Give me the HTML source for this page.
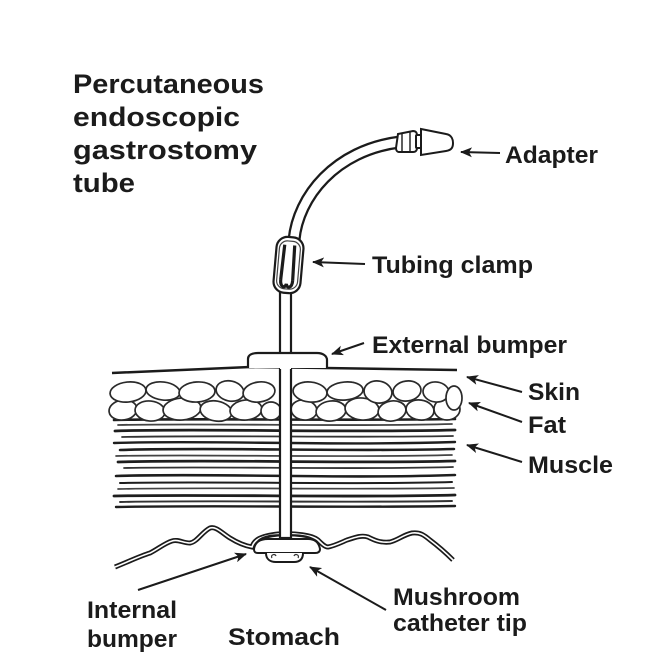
<!DOCTYPE html>
<html><head><meta charset="utf-8"><style>
html,body{margin:0;padding:0;background:#fff;}
svg{display:block;}
text{font-family:"Liberation Sans",Arial,sans-serif;font-weight:bold;fill:#1b1b1b;}
</style></head><body>
<svg width="668" height="656" viewBox="0 0 668 656" xmlns="http://www.w3.org/2000/svg">
<defs>
<marker id="ah" markerWidth="12" markerHeight="10" refX="1" refY="5" orient="auto" markerUnits="userSpaceOnUse">
<path d="M0,5 L12,0 L9,5 L12,10 Z" fill="#1b1b1b"/>
</marker>
</defs>
<rect width="668" height="656" fill="#fff"/>

<!-- Title -->
<text x="73" y="93" font-size="27" textLength="191" lengthAdjust="spacingAndGlyphs">Percutaneous</text>
<text x="73" y="126" font-size="27" textLength="167" lengthAdjust="spacingAndGlyphs">endoscopic</text>
<text x="73" y="159" font-size="27" textLength="184" lengthAdjust="spacingAndGlyphs">gastrostomy</text>
<text x="73" y="192" font-size="27" textLength="62" lengthAdjust="spacingAndGlyphs">tube</text>

<!-- Skin line -->
<path d="M112,373 Q200,369 250,367 L325,368 Q400,369 457,370" fill="none" stroke="#1b1b1b" stroke-width="2.5"/>

<!-- Muscle -->
<g fill="none" stroke="#1e1e1e" stroke-linecap="round">
<path d="M114,420 C200,418 350,421 455,419" stroke-width="2.6"/>
<path d="M118,425 C220,423 340,427 452,424" stroke-width="1.8" stroke="#444"/>
<path d="M115,431 C200,428 330,433 455,430" stroke-width="2.8"/>
<path d="M122,437 C220,435 360,438 453,436" stroke-width="1.8" stroke="#333"/>
<path d="M114,443 C210,440 330,446 455,442" stroke-width="2.4"/>
<path d="M120,450 C220,447 350,452 454,449" stroke-width="2.6"/>
<path d="M116,456 C200,454 340,458 452,455" stroke-width="1.7" stroke="#444"/>
<path d="M118,462 C220,459 340,464 455,461" stroke-width="2.7"/>
<path d="M124,468 C220,466 350,470 453,467" stroke-width="1.8" stroke="#333"/>
<path d="M116,476 C210,473 340,479 455,475" stroke-width="2.6"/>
<path d="M120,483 C220,481 350,485 452,482" stroke-width="2"/>
<path d="M118,489 C220,487 340,490 454,488" stroke-width="1.7" stroke="#444"/>
<path d="M114,496 C210,494 350,498 455,495" stroke-width="2.8"/>
<path d="M120,502 C220,500 340,503 452,501" stroke-width="1.9" stroke="#333"/>
<path d="M116,507 C220,505 350,508 455,506" stroke-width="2.4"/>
</g>

<!-- Fat cells -->
<g fill="#fff" stroke="#2a2a2a" stroke-width="1.7">
<ellipse cx="123" cy="410" rx="14" ry="10" transform="rotate(-8 123 410)"/>
<ellipse cx="150" cy="411" rx="15" ry="10" transform="rotate(6 150 411)"/>
<ellipse cx="182" cy="409" rx="19" ry="11" transform="rotate(-5 182 409)"/>
<ellipse cx="216" cy="411" rx="16" ry="10" transform="rotate(10 216 411)"/>
<ellipse cx="246" cy="410" rx="16" ry="10" transform="rotate(-6 246 410)"/>
<ellipse cx="271" cy="411" rx="10" ry="9"/>
<ellipse cx="304" cy="410" rx="13" ry="10" transform="rotate(8 304 410)"/>
<ellipse cx="331" cy="411" rx="15" ry="10" transform="rotate(-7 331 411)"/>
<ellipse cx="362" cy="409" rx="17" ry="11" transform="rotate(5 362 409)"/>
<ellipse cx="392" cy="411" rx="14" ry="10" transform="rotate(-10 392 411)"/>
<ellipse cx="420" cy="410" rx="14" ry="10" transform="rotate(8 420 410)"/>
<ellipse cx="447" cy="409" rx="13" ry="11"/>
<ellipse cx="128" cy="392" rx="18" ry="10" transform="rotate(-6 128 392)"/>
<ellipse cx="163" cy="391" rx="17" ry="9" transform="rotate(7 163 391)"/>
<ellipse cx="197" cy="392" rx="18" ry="10" transform="rotate(-4 197 392)"/>
<ellipse cx="230" cy="391" rx="14" ry="10" transform="rotate(12 230 391)"/>
<ellipse cx="259" cy="392" rx="16" ry="10" transform="rotate(-8 259 392)"/>
<ellipse cx="310" cy="392" rx="17" ry="10" transform="rotate(6 310 392)"/>
<ellipse cx="345" cy="391" rx="18" ry="9" transform="rotate(-5 345 391)"/>
<ellipse cx="378" cy="392" rx="14" ry="11" transform="rotate(10 378 392)"/>
<ellipse cx="407" cy="391" rx="14" ry="10" transform="rotate(-8 407 391)"/>
<ellipse cx="436" cy="392" rx="13" ry="10" transform="rotate(6 436 392)"/>
<ellipse cx="454" cy="398" rx="8" ry="12"/>
</g>

<!-- Stomach wall -->
<path d="M115,567 C130,561 140,556 150,553 C158,549 165,543 172,541 C178,539 183,543 190,543 C197,542 202,532 210,528 C216,526 222,533 230,538 C238,543 246,546 252,547 C254,540 260,536 278,534 C295,533 312,535 318,540 C322,544 325,547 328,547 C334,546 340,543 347,540 C356,537 362,535 368,537 C374,540 380,543 390,542 C398,540 403,535 412,533 C420,532 424,535 430,540 C438,546 446,553 453,560" fill="none" stroke="#1b1b1b" stroke-width="5"/>
<path d="M115,567 C130,561 140,556 150,553 C158,549 165,543 172,541 C178,539 183,543 190,543 C197,542 202,532 210,528 C216,526 222,533 230,538 C238,543 246,546 252,547 C254,540 260,536 278,534 C295,533 312,535 318,540 C322,544 325,547 328,547 C334,546 340,543 347,540 C356,537 362,535 368,537 C374,540 380,543 390,542 C398,540 403,535 412,533 C420,532 424,535 430,540 C438,546 446,553 453,560" fill="none" stroke="#fff" stroke-width="1.6"/>

<!-- Vertical tube -->
<rect x="280" y="288" width="11" height="250" fill="#fff" stroke="#1b1b1b" stroke-width="2.2"/>

<!-- Internal bumper -->
<path d="M254,549 C255,542 260,539 268,539 L308,539 C315,539 319,543 320,549 C320,552 318,553 315,553 L258,553 C255,553 254,552 254,549 Z" fill="#fff" stroke="#1b1b1b" stroke-width="2"/>
<path d="M258,541 C262,537 270,535 280,535 M291,535 C300,535 310,536 316,541" fill="none" stroke="#1b1b1b" stroke-width="1.8"/>
<!-- Mushroom tip -->
<path d="M266,553 C266,559 270,562 276,562 L294,562 C300,562 303,559 303,553" fill="#fff" stroke="#1b1b1b" stroke-width="2"/>
<path d="M272,558 C270,555 275,553 276,556 M298,558 C300,555 295,553 294,556" fill="none" stroke="#333" stroke-width="1.2"/>

<!-- External bumper -->
<path d="M248,368 L248,359 C248,355 252,353 258,353 L317,353 C323,353 327,356 327,360 L327,368" fill="#fff" stroke="#1b1b1b" stroke-width="2.2"/>
<line x1="280" y1="368" x2="291" y2="368" stroke="#fff" stroke-width="2"/>

<!-- Curved tube -->
<path d="M294,240 C298,197 335,150 400,142" fill="none" stroke="#1b1b1b" stroke-width="13"/>
<path d="M294,240 C298,197 335,150 400,142" fill="none" stroke="#fff" stroke-width="8.5"/>

<!-- Clamp -->
<g transform="rotate(5 288 265)">
<rect x="275" y="237" width="27" height="56" rx="11" fill="#fff" stroke="#1b1b1b" stroke-width="2.2"/>
<rect x="278" y="241" width="21" height="48" rx="8" fill="none" stroke="#444" stroke-width="1.2"/>
<path d="M283,245 L282,280 M293,245 L294,280" stroke="#1b1b1b" stroke-width="3.2" fill="none"/>
<path d="M282,280 C282,288 287,289 288,284 C289,289 294,288 294,280" stroke="#1b1b1b" stroke-width="3.2" fill="none"/>
</g>

<!-- Adapter -->
<g fill="#fff" stroke="#1b1b1b" stroke-width="2">
<path d="M398,134 L413,131 C416,131 417,133 417,135 L417,148 C417,150 416,152 413,152 L399,152 C397,152 396,150 396,148 Z"/>
<path d="M402,133 L402,151 M410,132 L410,151" fill="none" stroke-width="1.4"/>
<rect x="416" y="135" width="5" height="13" rx="1"/>
<path d="M421,129 L446,134 C452,135 453,140 453,143 C453,147 452,150 446,151 L421,155 Z"/>
</g>

<!-- Arrows -->
<g stroke="#1b1b1b" stroke-width="2" fill="none" marker-start="url(#ah)">
<path d="M461,152 L500,153"/>
<path d="M313,262 L365,264"/>
<path d="M332,354 L364,343"/>
<path d="M467,377 L522,392"/>
<path d="M469,403 L522,422"/>
<path d="M467,445 L522,462"/>
<path d="M246,554 L138,590"/>
<path d="M310,567 L386,610"/>
</g>

<!-- Labels -->
<text x="505" y="163" font-size="24" textLength="93" lengthAdjust="spacingAndGlyphs">Adapter</text>
<text x="372" y="273" font-size="24" textLength="161" lengthAdjust="spacingAndGlyphs">Tubing clamp</text>
<text x="372" y="353" font-size="24" textLength="195" lengthAdjust="spacingAndGlyphs">External bumper</text>
<text x="528" y="400" font-size="24" textLength="52" lengthAdjust="spacingAndGlyphs">Skin</text>
<text x="528" y="433" font-size="24" textLength="38" lengthAdjust="spacingAndGlyphs">Fat</text>
<text x="528" y="473" font-size="24" textLength="85" lengthAdjust="spacingAndGlyphs">Muscle</text>
<text x="87" y="618" font-size="24" textLength="90" lengthAdjust="spacingAndGlyphs">Internal</text>
<text x="87" y="647" font-size="24" textLength="90" lengthAdjust="spacingAndGlyphs">bumper</text>
<text x="228" y="645" font-size="24" textLength="112" lengthAdjust="spacingAndGlyphs">Stomach</text>
<text x="393" y="605" font-size="24" textLength="127" lengthAdjust="spacingAndGlyphs">Mushroom</text>
<text x="393" y="631" font-size="24" textLength="134" lengthAdjust="spacingAndGlyphs">catheter tip</text>
</svg>
</body></html>
